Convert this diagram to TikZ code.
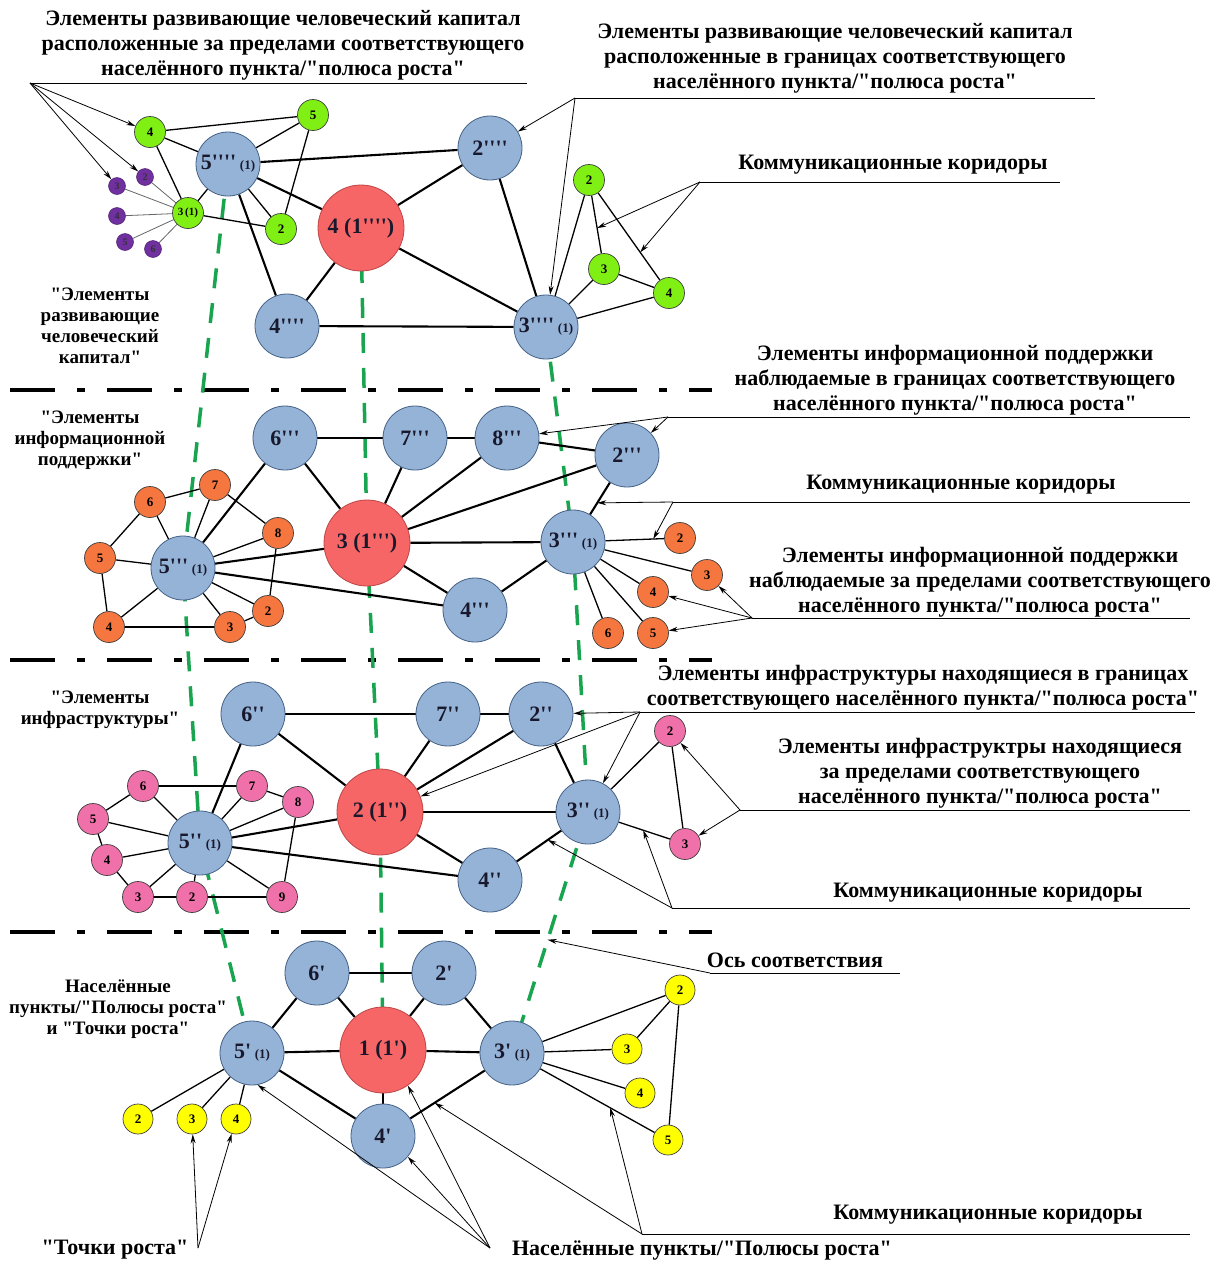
\documentclass[tikz,border=0pt]{standalone}
\usepackage{fontspec}
\setmainfont{Liberation Serif}[Ligatures=TeXOff]
\usetikzlibrary{arrows.meta,backgrounds}
\definecolor{bluef}{RGB}{149,179,215}
\definecolor{bordc}{RGB}{70,98,135}
\definecolor{redf}{RGB}{247,102,102}
\definecolor{redb}{RGB}{190,70,70}
\definecolor{greenf}{RGB}{128,240,20}
\definecolor{purpf}{RGB}{112,48,160}
\definecolor{orangef}{RGB}{245,118,62}
\definecolor{pinkf}{RGB}{240,112,170}
\definecolor{yellowf}{RGB}{255,255,0}
\definecolor{axisg}{RGB}{25,165,80}
\definecolor{txtc}{RGB}{25,25,45}
\newcommand\subone{{\fontsize{13}{13}\selectfont(1)}}
\begin{document}
\begin{tikzpicture}[x=1pt,y=-1pt,
  bignode/.style={circle,draw=bordc,line width=0.8pt,fill=bluef,minimum size=64pt,inner sep=0pt,text=txtc,font=\bfseries\fontsize{22}{22}\selectfont},
  rednode/.style={circle,draw=redb,line width=0.8pt,fill=redf,minimum size=86pt,inner sep=0pt,text=txtc,font=\bfseries\fontsize{22}{22}\selectfont},
  smallnode/.style={circle,draw=black!75,line width=0.7pt,minimum size=31pt,inner sep=0pt,font=\bfseries\fontsize{13}{13}\selectfont},
  gnode/.style={smallnode,fill=greenf},
  onode/.style={smallnode,fill=orangef},
  pnode/.style={smallnode,fill=pinkf},
  ynode/.style={smallnode,fill=yellowf,minimum size=30pt},
  purnode/.style={circle,fill=purpf,draw=purpf!70!black,line width=0.5pt,minimum size=17pt,inner sep=0pt,text=black!80,font=\bfseries\fontsize{10}{10}\selectfont},
  lab/.style={align=center,inner sep=0pt,font=\bfseries\fontsize{22}{25}\selectfont},
  llab/.style={align=center,inner sep=0pt,font=\bfseries\fontsize{19}{21}\selectfont},
  thk/.style={line width=2.1pt},
  thn/.style={line width=1.3pt},
  thg/.style={line width=0.8pt,draw=black!60},
  arr/.style={line width=0.8pt,-{Stealth[length=9pt,width=5pt]}},
  uline/.style={line width=0.8pt},
  sepline/.style={line width=4pt,dash pattern=on 45pt off 22pt on 8pt off 22pt},
  axis/.style={draw=axisg,line width=3.5pt,dash pattern=on 20pt off 15pt}
]
\useasboundingbox (0,0) rectangle (1226,1264);

% ---------- nodes ----------
% layer 1
\path node[bignode] (n5a) at (228,164) {5''''\,\subone}
      node[rednode] (r1) at (361,228) {4 (1'''')}
      node[bignode] (n2a) at (490,148) {2''''}
      node[bignode] (n4a) at (287,326) {4''''}
      node[bignode] (n3a) at (546,327) {3''''\,\subone}
      node[gnode] (ga4) at (150,132) {4}
      node[gnode] (ga5) at (313,115) {5}
      node[gnode] (ga2) at (281,229) {2}
      node[gnode,font=\bfseries\fontsize{11}{11}\selectfont] (ga3) at (188,213) {3\,(1)}
      node[purnode] (pa2) at (145,177) {2}
      node[purnode] (pa3) at (117,186) {3}
      node[purnode] (pa4) at (117,216) {4}
      node[purnode] (pa5) at (125,242) {5}
      node[purnode] (pa6) at (153,249) {6}
      node[gnode] (gb2) at (589,180) {2}
      node[gnode] (gb3) at (604,269) {3}
      node[gnode] (gb4) at (669,293) {4};
% layer 2
\path node[bignode] (n6b) at (285,438) {6'''}
      node[bignode] (n7b) at (415,438) {7'''}
      node[bignode] (n8b) at (507,438) {8'''}
      node[bignode] (n2b) at (627,455) {2'''}
      node[rednode] (r2) at (367,543) {3 (1''')}
      node[bignode] (n3b) at (573,542) {3'''\,\subone}
      node[bignode] (n4b) at (475,610) {4'''}
      node[bignode] (n5b) at (183,568) {5'''\,\subone}
      node[onode] (o6) at (150,502) {6}
      node[onode] (o7) at (215,485) {7}
      node[onode] (o8) at (278,533) {8}
      node[onode] (o5) at (100,558) {5}
      node[onode] (o4) at (109,627) {4}
      node[onode] (o3) at (230,627) {3}
      node[onode] (o2) at (268,611) {2}
      node[onode] (oo2) at (680,538) {2}
      node[onode] (oo3) at (707,575) {3}
      node[onode] (oo4) at (653,592) {4}
      node[onode] (oo5) at (653,633) {5}
      node[onode] (oo6) at (608,633) {6};
% layer 3
\path node[bignode] (n6c) at (253,714) {6''}
      node[bignode] (n7c) at (448,714) {7''}
      node[bignode] (n2c) at (541,714) {2''}
      node[rednode] (r3) at (380,812) {2 (1'')}
      node[bignode] (n3c) at (588,812) {3''\,\subone}
      node[bignode] (n4c) at (490,880) {4''}
      node[bignode] (n5c) at (200,843) {5''\,\subone}
      node[pnode] (p6) at (143,786) {6}
      node[pnode] (p7) at (252,786) {7}
      node[pnode] (p8) at (298,802) {8}
      node[pnode] (p5) at (93,819) {5}
      node[pnode] (p4) at (107,860) {4}
      node[pnode] (p3) at (138,897) {3}
      node[pnode] (p2) at (192,897) {2}
      node[pnode] (p9) at (282,897) {9}
      node[pnode] (pp2) at (670,731) {2}
      node[pnode] (pp3) at (685,844) {3};
% layer 4
\path node[bignode] (n6d) at (317,973) {6'}
      node[bignode] (n2d) at (444,973) {2'}
      node[rednode] (r4) at (383,1050) {1 (1')}
      node[bignode] (n5d) at (252,1053) {5'\,\subone}
      node[bignode] (n3d) at (512,1053) {3'\,\subone}
      node[bignode] (n4d) at (383,1136) {4'}
      node[ynode] (y2) at (138,1119) {2}
      node[ynode] (y3) at (192,1119) {3}
      node[ynode] (y4) at (236,1119) {4}
      node[ynode] (yy2) at (680,990) {2}
      node[ynode] (yy3) at (627,1049) {3}
      node[ynode] (yy4) at (640,1093) {4}
      node[ynode] (yy5) at (668,1140) {5};

% ---------- background: separators, axes, edges ----------
\begin{scope}[on background layer]
\fill[white] (0,0) rectangle (1226,1264);
\coordinate (s1a) at (10,390); \coordinate (s1b) at (712,390);
\coordinate (s2a) at (10,660); \coordinate (s2b) at (712,660);
\coordinate (s3a) at (10,932); \coordinate (s3b) at (712,932);
\draw[sepline] (s1a) -- (s1b);
\draw[sepline] (s2a) -- (s2b);
\draw[sepline] (s3a) -- (s3b);
% axes of correspondence
\draw[axis] (n5a.center) -- (n5b.center) -- (n5c.center) -- (n5d.center);
\draw[axis] (r1.center) -- (r2.center) -- (r3.center) -- (r4.center);
\draw[axis] (n3a.center) -- (n3b.center) -- (n3c.center) -- (n3d.center);
% layer 1 edges
\foreach \a/\b in {n5a/n2a,n5a/r1,n5a/n4a,r1/n2a,r1/n4a,r1/n3a,n2a/n3a,n4a/n3a}
  \draw[thk] (\a) -- (\b);
\foreach \a/\b in {ga4/ga5,ga4/n5a,ga4/ga3,ga5/n5a,ga5/ga2,n5a/ga2,n5a/ga3,ga3/ga2,n3a/gb2,n3a/gb3,n3a/gb4,gb2/gb3,gb2/gb4,gb3/gb4}
  \draw[thn] (\a) -- (\b);
\foreach \b in {pa2,pa3,pa4,pa5,pa6}
  \draw[thg] (ga3) -- (\b);
% layer 2 edges
\foreach \a/\b in {n6b/n7b,n7b/n8b,n8b/n2b,n6b/r2,n7b/r2,n8b/r2,r2/n2b,r2/n3b,r2/n4b,n4b/n3b,n2b/n3b,n6b/n5b,r2/n5b,n4b/n5b}
  \draw[thk] (\a) -- (\b);
\foreach \a/\b in {o6/o7,o6/n5b,o7/n5b,o7/o8,o8/n5b,o8/o2,o5/o6,o5/n5b,o5/o4,o4/n5b,o4/o3,o3/n5b,o3/o2,o2/n5b,n3b/oo2,n3b/oo3,n3b/oo4,n3b/oo5,n3b/oo6}
  \draw[thn] (\a) -- (\b);
% layer 3 edges
\foreach \a/\b in {n6c/n7c,n7c/n2c,n6c/r3,n7c/r3,n2c/r3,r3/n3c,r3/n4c,n4c/n3c,n2c/n3c,n6c/n5c,r3/n5c,n4c/n5c}
  \draw[thk] (\a) -- (\b);
\foreach \a/\b in {p6/p7,p6/p5,p6/n5c,p7/n5c,p7/p8,p8/n5c,p8/p9,p5/n5c,p5/p4,p4/n5c,p4/p3,p3/n5c,p3/p2,p2/n5c,p2/p9,p9/n5c,n3c/pp2,n3c/pp3,pp2/pp3}
  \draw[thn] (\a) -- (\b);
% layer 4 edges
\foreach \a/\b in {n6d/n2d,n6d/n5d,n6d/r4,n2d/r4,n2d/n3d,n5d/r4,r4/n3d,r4/n4d,n5d/n4d,n4d/n3d}
  \draw[thk] (\a) -- (\b);
\foreach \a/\b in {n5d/y2,n5d/y3,n5d/y4,n3d/yy2,n3d/yy3,n3d/yy4,n3d/yy5,yy2/yy3,yy2/yy5}
  \draw[thn] (\a) -- (\b);
\end{scope}

% ---------- points on edges used as arrow targets ----------
\path (gb2.center) -- (gb3.center) coordinate[pos=0.54] (m1);
\path (gb2.center) -- (gb4.center) coordinate[pos=0.64] (m2);
\path (n2b.center) -- (n3b.center) coordinate[pos=0.55] (m3);
\path (n3b.center) -- (oo2.center) coordinate[pos=0.75] (m4);
\path (n3c.center) -- (pp3.center) coordinate[pos=0.57] (m5);
\path (n4c.center) -- (n3c.center) coordinate[pos=0.59] (m6);
\path (n3c.center) -- (n3d.center) coordinate[pos=0.53] (m7);
\path (n4d.center) -- (n3d.center) coordinate[pos=0.40] (m8);
\path (n3d.center) -- (yy5.center) coordinate[pos=0.63] (m9);

% ---------- labels ----------
\node[lab] (t1) at (283,45) {Элементы развивающие человеческий капитал\\расположенные за пределами соответствующего\\населённого пункта/"полюса роста"};
\node[lab] (t2) at (835,58) {Элементы развивающие человеческий капитал\\расположенные в границах соответствующего\\населённого пункта/"полюса роста"};
\node[lab] (t3) at (893,165) {Коммуникационные коридоры};
\node[llab] (l1) at (100,326) {"Элементы\\развивающие\\человеческий\\капитал"};
\node[llab] (l2) at (90,440) {"Элементы\\информационной\\поддержки"};
\node[llab] (l3) at (100,710) {"Элементы\\инфраструктуры"};
\node[llab] (l4) at (118,1009) {Населённые\\пункты/"Полюсы роста"\\и "Точки роста"};
\node[lab] (r2a) at (955,380) {Элементы информационной поддержки\\наблюдаемые в границах соответствующего\\населённого пункта/"полюса роста"};
\node[lab] (r2bl) at (961,485) {Коммуникационные коридоры};
\node[lab] (r2c) at (980,582) {Элементы информационной поддержки\\наблюдаемые за пределами соответствующего\\населённого пункта/"полюса роста"};
\node[lab] (r3a) at (923,688) {Элементы инфраструктуры находящиеся в границах\\соответствующего населённого пункта/"полюса роста"};
\node[lab] (r3bl) at (980,773) {Элементы инфраструктры находящиеся\\за пределами соответствующего\\населённого пункта/"полюса роста"};
\node[lab] (r3c) at (988,893) {Коммуникационные коридоры};
\node[lab] (r4a) at (795,960) {Ось соответствия};
\node[lab] (r4b) at (988,1215) {Коммуникационные коридоры};
\node[lab] (b1) at (115,1250) {"Точки роста"};
\node[lab] (b2) at (702,1250) {Населённые пункты/"Полюсы роста"};

% ---------- label lines and arrows ----------
\coordinate (A1) at (30,83);   \coordinate (E1) at (527,83);
\coordinate (A2) at (575,98);  \coordinate (E2) at (1095,98);
\coordinate (A3) at (700,182); \coordinate (E3) at (1060,182);
\coordinate (A4) at (668,417); \coordinate (E4) at (1190,417);
\coordinate (A5) at (673,502); \coordinate (E5) at (1190,502);
\coordinate (A6) at (752,618); \coordinate (E6) at (1190,618);
\coordinate (A7) at (640,712); \coordinate (E7) at (1195,712);
\coordinate (A8) at (740,810); \coordinate (E8) at (1190,810);
\coordinate (A9) at (672,908); \coordinate (E9) at (1190,908);
\coordinate (A10) at (710,973); \coordinate (E10) at (900,973);
\coordinate (A11) at (642,1234); \coordinate (E11) at (1190,1234);
\coordinate (A12) at (198,1248);
\coordinate (A13) at (490,1248);
\foreach \a/\e in {A1/E1,A2/E2,A3/E3,A4/E4,A5/E5,A6/E6,A7/E7,A8/E8,A9/E9,A10/E10,A11/E11}
  \draw[uline] (\a) -- (\e);
\foreach \t in {ga4,pa2,pa3} \draw[arr] (A1) -- (\t);
\foreach \t in {n2a,n3a} \draw[arr] (A2) -- (\t);
\foreach \t in {m1,m2} \draw[arr] (A3) -- (\t);
\foreach \t in {n8b,n2b} \draw[arr] (A4) -- (\t);
\foreach \t in {m3,m4} \draw[arr] (A5) -- (\t);
\foreach \t in {oo3,oo4,oo5} \draw[arr] (A6) -- (\t);
\foreach \t in {n2c,r3,n3c} \draw[arr] (A7) -- (\t);
\foreach \t in {pp2,pp3} \draw[arr] (A8) -- (\t);
\foreach \t in {m5,m6} \draw[arr] (A9) -- (\t);
\draw[arr] (A10) -- (m7);
\foreach \t in {m8,m9} \draw[arr] (A11) -- (\t);
\foreach \t in {y3,y4} \draw[arr] (A12) -- (\t);
\draw[arr] (A13) -- (n5d.-80);
\draw[arr] (A13) -- (r4.-55);
\draw[arr] (A13) -- (n4d.-40);
\end{tikzpicture}
\end{document}
